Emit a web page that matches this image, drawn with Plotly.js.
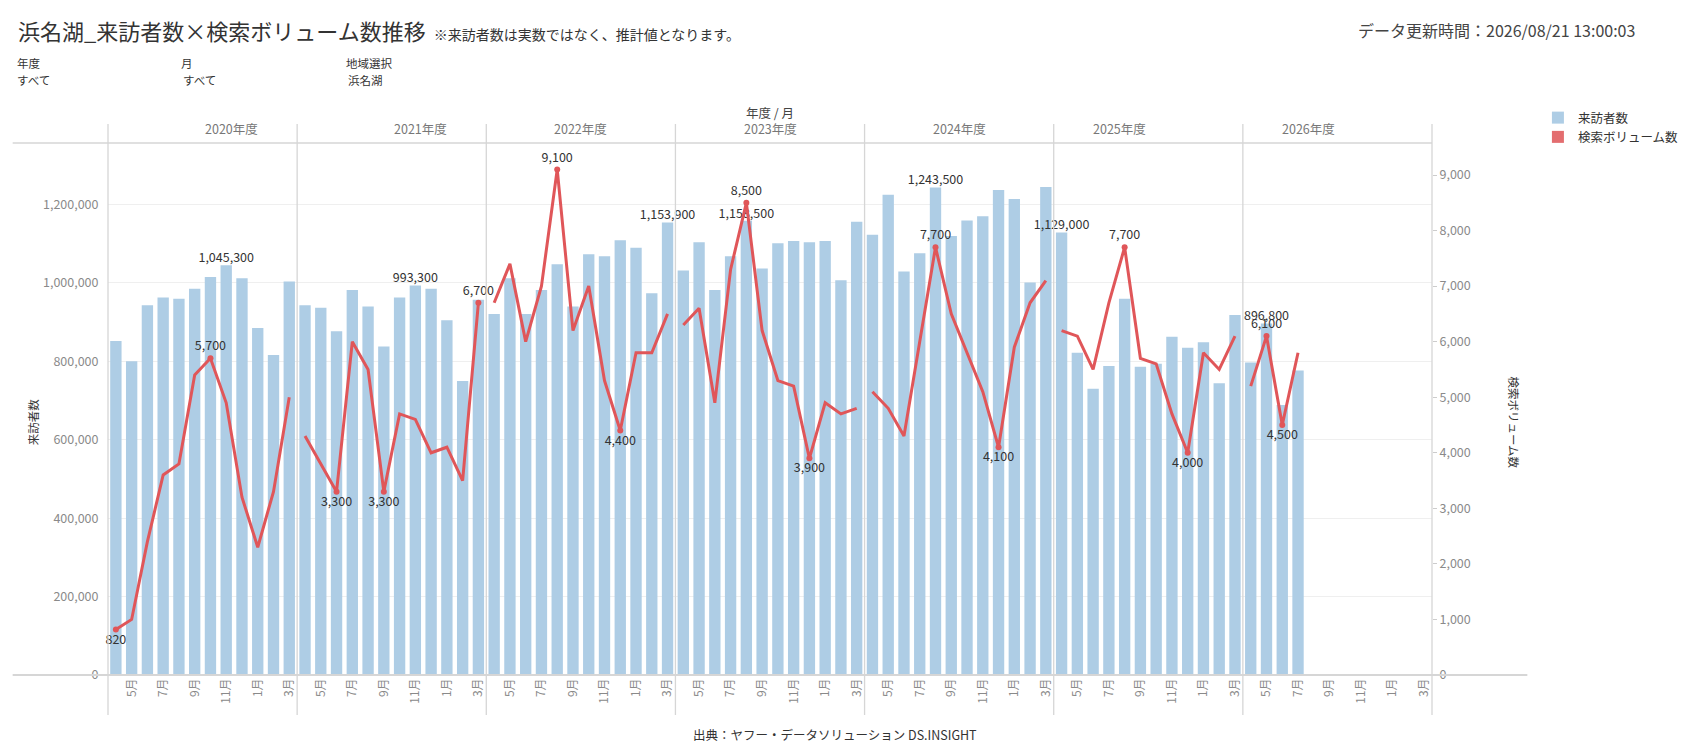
<!DOCTYPE html>
<html><head><meta charset="utf-8">
<script src="https://cdn.plot.ly/plotly-3.0.1.min.js"></script>
<style>html,body{margin:0;background:#fff}#chart{width:1696px;height:754px}</style>
</head><body><div id="chart"></div>
<script>
const FONT = '"Noto Sans CJK JP", "Noto Sans", sans-serif';
const BAR = "#aecde5";
const LINE = "#e05659";
const MUTED = "#8a8a8a";

const fiscalYears = ["2020年度", "2021年度", "2022年度", "2023年度", "2024年度", "2025年度", "2026年度"];
const months = ["4月", "5月", "6月", "7月", "8月", "9月", "10月", "11月", "12月", "1月", "2月", "3月"];

// visitors per month, Apr..Mar for each fiscal year
const visitors = [
  852000, 800000, 943000, 963000, 960000, 985000, 1015000, 1045300, 1012000, 885000, 816000, 1004000,
  943000, 937000, 877000, 982000, 940000, 838000, 963000, 993300, 985000, 905000, 750000, 957000,
  921000, 1012000, 921000, 982000, 1048000, 940000, 1073000, 1068000, 1109000, 1090000, 974000, 1153900,
  1032000, 1104000, 982000, 1068000, 1158500, 1037000, 1101000, 1107000, 1104000, 1107000, 1007000, 1156000,
  1123000, 1225000, 1029000, 1076000, 1243500, 1120000, 1159000, 1170000, 1237000, 1214000, 1001000, 1245000,
  1129000, 822000, 730000, 788000, 960000, 786000, 794000, 863000, 835000, 849000, 744000, 918000,
  797000, 896800, 689000, 777000, null, null, null, null, null, null, null, null
];
const searchVolume = [
  820, 1000, 2400, 3600, 3800, 5400, 5700, 4900, 3200, 2300, 3300, 5000,
  4300, 3800, 3300, 6000, 5500, 3300, 4700, 4600, 4000, 4100, 3500, 6700,
  6700, 7400, 6000, 7000, 9100, 6200, 7000, 5300, 4400, 5800, 5800, 6500,
  6300, 6600, 4900, 7300, 8500, 6200, 5300, 5200, 3900, 4900, 4700, 4800,
  5100, 4800, 4300, 6000, 7700, 6500, 5800, 5100, 4100, 5900, 6700, 7100,
  6200, 6100, 5500, 6700, 7700, 5700, 5600, 4700, 4000, 5800, 5500, 6100,
  5200, 6100, 4500, 5800, null, null, null, null, null, null, null, null
];
// labelled points (index into series) and label position
const visitorLabelIdx = [7, 19, 35, 40, 52, 60, 73];
const searchLabelIdx = [0, 6, 14, 17, 23, 28, 32, 40, 44, 52, 56, 64, 68, 73, 74];
const searchLabelPos = ["bottom center", "top center", "bottom center", "bottom center", "top center",
  "top center", "bottom center", "top center", "bottom center", "top center", "bottom center",
  "top center", "bottom center", "top center", "bottom center"];

const xs = visitors.map((_, i) => i);
// line broken between fiscal years
const lx = [], ly = [];
searchVolume.forEach((v, i) => {
  if (i > 0 && i % 12 === 0) { lx.push(i - 0.5); ly.push(null); }
  lx.push(i); ly.push(v);
});
const fmt = (n) => n.toLocaleString("en-US");

const tickvals = xs.filter((i) => i % 2 === 1);
const ticktext = tickvals.map((i) => months[i % 12]);

const traces = [
  { type: "bar", x: xs, y: visitors, name: "来訪者数", marker: { color: BAR }, width: 0.72, yaxis: "y" },
  // legend-only swatch so the search series shows a square like the bars
  { type: "bar", x: [null], y: [null], name: "検索ボリューム数", marker: { color: "#e36d6f" }, yaxis: "y" },
  { type: "scatter", mode: "lines", x: lx, y: ly, name: "検索ボリューム数", yaxis: "y2", showlegend: false,
    line: { color: LINE, width: 3 }, connectgaps: false },
  { type: "scatter", mode: "text", x: visitorLabelIdx, y: visitorLabelIdx.map((i) => visitors[i]),
    text: visitorLabelIdx.map((i) => fmt(visitors[i])), textposition: "top center", cliponaxis: false,
    textfont: { size: 12.5, color: "#333" }, showlegend: false, hoverinfo: "skip", yaxis: "y" },
  { type: "scatter", mode: "markers+text", x: searchLabelIdx, y: searchLabelIdx.map((i) => searchVolume[i]),
    text: searchLabelIdx.map((i) => fmt(searchVolume[i])), textposition: searchLabelPos, cliponaxis: false,
    marker: { color: LINE, size: 6 }, textfont: { size: 12.5, color: "#333" },
    showlegend: false, hoverinfo: "skip", yaxis: "y2" },
];

const L = 108, R = 1455, T = 143, B = 675;
const shapes = [];
const annotations = [];
const yw = (R - L) / 7;
for (let k = 0; k <= 7; k++) {
  const fx = k / 7;
  shapes.push({ type: "line", xref: "paper", yref: "paper", x0: fx, x1: fx,
    y0: -(715 - B) / (B - T), y1: (B - 124) / (B - T), line: { color: "#d6d6d6", width: 1.3 } });
}
// header underline and baseline
shapes.push({ type: "line", xref: "paper", yref: "paper", x0: (11 - L) / (R - L), x1: 1, y0: 1, y1: 1, line: { color: "#d6d6d6", width: 1.5 } });
shapes.push({ type: "line", xref: "paper", yref: "paper", x0: (11 - L) / (R - L), x1: (1552 - L) / (R - L), y0: 0, y1: 0, line: { color: "#d6d6d6", width: 2 } });
fiscalYears.forEach((fy, k) => annotations.push({ xref: "paper", yref: "paper", x: (k + 0.5) / 7, y: 1, yanchor: "bottom", yshift: 3,
  text: fy, showarrow: false, font: { size: 12.5, color: "#777" } }));
const pageText = (x, y, text, size, color, xanchor = "left", extra = {}) => annotations.push(Object.assign({
  xref: "paper", yref: "paper", x: (x - L) / (R - L), y: (B - y) / (B - T), xanchor, yanchor: "middle",
  text, showarrow: false, font: { size, color } }, extra));
pageText(14, 30, "浜名湖_来訪者数×検索ボリューム数推移 <span style='font-size:14px'> ※来訪者数は実数ではなく、推計値となります。</span>", 22, "#333");
pageText(1664, 30, "データ更新時間：2026/08/21 13:00:03", 16, "#444", "right");
pageText(13, 63, "年度", 11.5, "#333"); pageText(13, 80, "すべて", 11.5, "#333");
pageText(180, 63, "月", 11.5, "#333"); pageText(182, 80, "すべて", 11.5, "#333");
pageText(348, 63, "地域選択", 11.5, "#333"); pageText(350, 80, "浜名湖", 11.5, "#333");
pageText(781, 113, "年度 / 月", 12.5, "#444", "center");
pageText(848, 734, "出典：ヤフー・データソリューション DS.INSIGHT", 12.5, "#333", "center");
pageText(32, 422, "来訪者数", 11.5, "#333", "center", { textangle: -90 });
pageText(1538, 422, "検索ボリューム数", 11.5, "#333", "center", { textangle: 90 });

const layout = {
  width: 1696, height: 754,
  paper_bgcolor: "#fff", plot_bgcolor: "#fff",
  font: { family: FONT, color: "#333" },
  margin: { l: L, r: 1696 - R, t: T, b: 754 - B, pad: 0 },
  bargap: 0.28,
  barmode: "overlay",
  showlegend: true,
  legend: { x: 1.08, y: (B - 103) / (B - T), xanchor: "left", yanchor: "top", font: { size: 12.5, color: "#333" },
    traceorder: "normal", itemwidth: 30, tracegroupgap: 2 },
  xaxis: { range: [-0.5, 83.5], tickvals, ticktext, tickangle: -90, tickfont: { size: 12, color: MUTED },
    showgrid: false, zeroline: false, showline: false, ticks: "", fixedrange: true },
  yaxis: { range: [0, 1357000], tickvals: [0, 200000, 400000, 600000, 800000, 1000000, 1200000],
    ticktext: ["0", "200,000", "400,000", "600,000", "800,000", "1,000,000", "1,200,000"],
    tickfont: { size: 12.5, color: MUTED }, gridcolor: "#efefef", zeroline: false, showline: false, ticklen: 6, ticks: "outside", tickcolor: "#fff" },
  yaxis2: { overlaying: "y", side: "right", range: [0, 9576], tickvals: [0, 1000, 2000, 3000, 4000, 5000, 6000, 7000, 8000, 9000],
    tickformat: ",", tickfont: { size: 12.5, color: MUTED }, showgrid: false, zeroline: false, showline: false, ticks: "outside", ticklen: 4, tickcolor: "#ccc" },
  shapes, annotations,
};
Plotly.newPlot("chart", traces, layout, { displayModeBar: false, staticPlot: true });
</script></body></html>
